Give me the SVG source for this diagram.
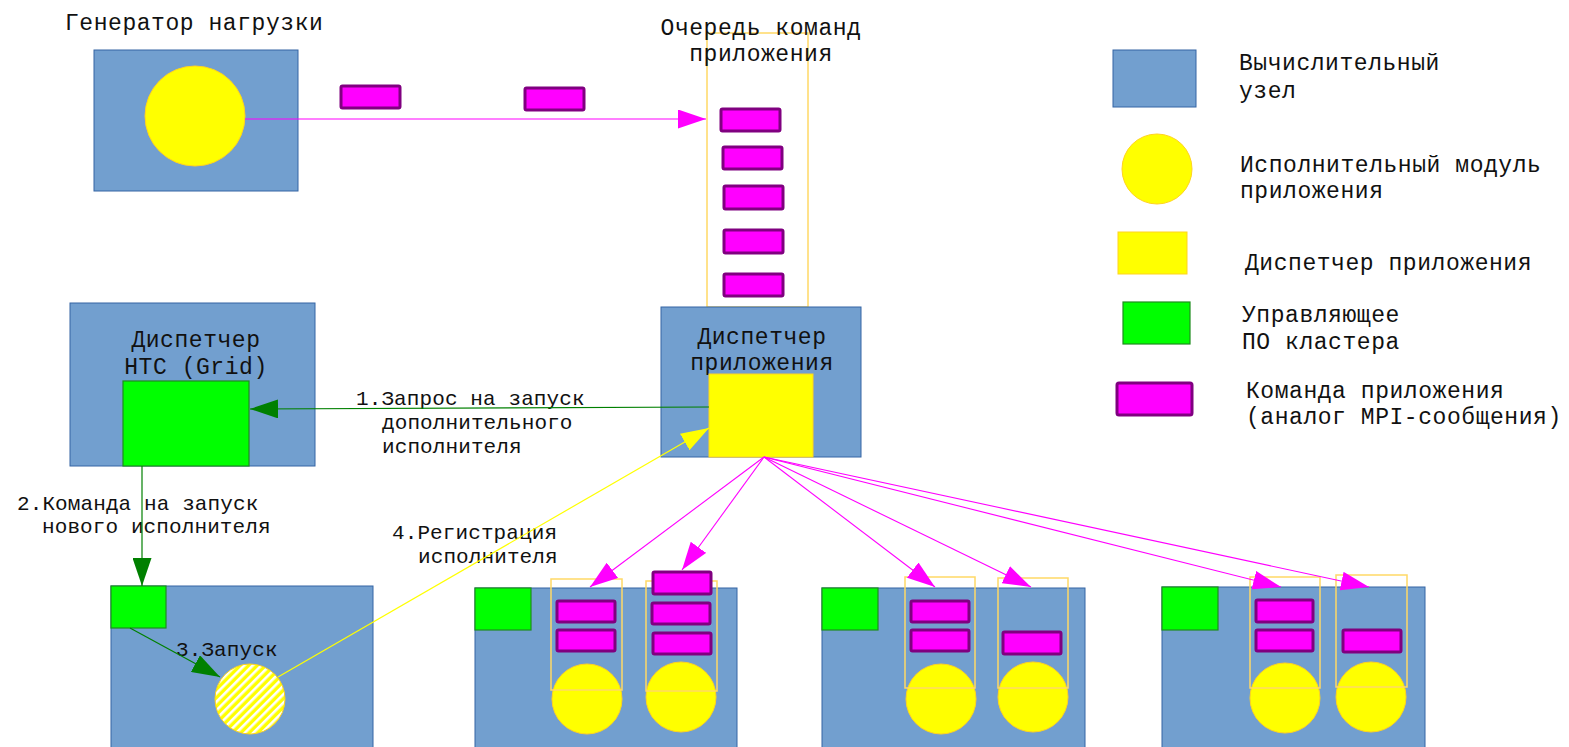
<svg xmlns="http://www.w3.org/2000/svg" width="1569" height="747" viewBox="0 0 1569 747">
  <style>
    .lbl { font-family: "Liberation Mono", "DejaVu Sans Mono", monospace; font-size: 23px; letter-spacing: 0.55px; fill: #111; }
    .step { font-family: "Liberation Mono", "DejaVu Sans Mono", monospace; font-size: 21px; letter-spacing: 0.1px; fill: #111; }
    .mid { text-anchor: middle; }
    .node { fill: #729fcf; stroke: #3465a4; stroke-width: 1; }
    .ctl { fill: #00ff00; stroke: #1f8c1f; stroke-width: 1.2; }
    .disp { fill: #ffff00; stroke: #ffd320; stroke-width: 1; }
    .mod { fill: #ffff00; stroke: #ffd320; stroke-width: 1; }
    .slot { fill: none; stroke: #ffd966; stroke-width: 1.5; }
    .cmd { fill: #ff00ff; stroke: #800080; stroke-width: 3; }
    .pink { stroke: #ff00ff; stroke-width: 1.1; fill: none; }
    .grn { stroke: #008000; stroke-width: 1.2; fill: none; }
    .yel { stroke: #ffff00; stroke-width: 1.2; fill: none; }
  </style>
  <defs>
    <marker id="ah-pink" markerUnits="userSpaceOnUse" markerWidth="28" markerHeight="19" viewBox="0 0 28 19" refX="28" refY="9.5" orient="auto">
      <path d="M0,0 L28,9.5 L0,19 z" fill="#ff00ff"/>
    </marker>
    <marker id="ah-green" markerUnits="userSpaceOnUse" markerWidth="28" markerHeight="19" viewBox="0 0 28 19" refX="28" refY="9.5" orient="auto">
      <path d="M0,0 L28,9.5 L0,19 z" fill="#008000"/>
    </marker>
    <marker id="ah-yellow" markerUnits="userSpaceOnUse" markerWidth="28" markerHeight="19" viewBox="0 0 28 19" refX="28" refY="9.5" orient="auto">
      <path d="M0,0 L28,9.5 L0,19 z" fill="#ffff00"/>
    </marker>
    <pattern id="hatch" patternUnits="userSpaceOnUse" width="6" height="6" patternTransform="rotate(45)">
      <rect width="6" height="6" fill="#ffff00"/>
      <rect width="2.6" height="6" fill="#ffffff"/>
    </pattern>
  </defs>

  <!-- load generator -->
  <g id="generator">
    <text class="lbl" x="65" y="30">Генератор нагрузки</text>
    <rect class="node" x="94" y="50" width="204" height="141"/>
    <circle class="mod" cx="195" cy="116" r="50"/>
  </g>

  <!-- commands in flight -->
  <g id="flying-commands">
    <rect class="cmd" x="341" y="86" width="59" height="22" rx="1.5"/>
    <rect class="cmd" x="525" y="88" width="59" height="22" rx="1.5"/>
  </g>

  <!-- application command queue -->
  <g id="queue">
    <rect class="slot" x="707" y="33" width="101" height="274"/>
    <text class="lbl mid" x="761" y="35">Очередь команд</text>
    <text class="lbl mid" x="761" y="61">приложения</text>
    <rect class="cmd" x="721" y="109" width="59" height="22" rx="1.5"/>
    <rect class="cmd" x="723" y="147" width="59" height="22" rx="1.5"/>
    <rect class="cmd" x="724" y="186" width="59" height="23" rx="1.5"/>
    <rect class="cmd" x="724" y="230" width="59" height="23" rx="1.5"/>
    <rect class="cmd" x="724" y="274" width="59" height="22" rx="1.5"/>
  </g>

  <!-- application dispatcher node -->
  <g id="app-dispatcher">
    <rect class="node" x="661" y="307" width="200" height="150"/>
    <text class="lbl mid" x="762" y="344">Диспетчер</text>
    <text class="lbl mid" x="762" y="370">приложения</text>
    <rect class="disp" x="709" y="374" width="104" height="83"/>
  </g>

  <!-- HTC (Grid) dispatcher -->
  <g id="htc-dispatcher">
    <rect class="node" x="70" y="303" width="245" height="163"/>
    <text class="lbl mid" x="196" y="347">Диспетчер</text>
    <text class="lbl mid" x="196" y="374">HTC (Grid)</text>
    <rect class="ctl" x="123" y="381" width="126" height="85"/>
  </g>

  <!-- new compute node -->
  <g id="node-new">
    <rect class="node" x="111" y="586" width="262" height="175"/>
    <rect class="ctl" x="111" y="586" width="55" height="42"/>
    <circle cx="250" cy="699" r="35" fill="url(#hatch)" stroke="#ffd320" stroke-width="1"/>
  </g>

  <!-- compute node 2 -->
  <g id="node-2">
    <rect class="node" x="475" y="588" width="262" height="173"/>
    <rect class="ctl" x="475" y="588" width="56" height="42"/>
    <circle class="mod" cx="587" cy="699" r="35"/>
    <circle class="mod" cx="681" cy="697" r="35"/>
    <rect class="slot" x="551" y="579" width="71" height="111"/>
    <rect class="slot" x="646" y="581" width="71" height="110"/>
    <rect class="cmd" x="557" y="601" width="58" height="21" rx="1.5"/>
    <rect class="cmd" x="557" y="630" width="58" height="21" rx="1.5"/>
    <rect class="cmd" x="653" y="572" width="58" height="22" rx="1.5"/>
    <rect class="cmd" x="652" y="603" width="58" height="21" rx="1.5"/>
    <rect class="cmd" x="653" y="633" width="58" height="21" rx="1.5"/>
  </g>

  <!-- compute node 3 -->
  <g id="node-3">
    <rect class="node" x="822" y="588" width="263" height="173"/>
    <rect class="ctl" x="822" y="588" width="56" height="42"/>
    <circle class="mod" cx="941" cy="699" r="35"/>
    <circle class="mod" cx="1033" cy="697" r="35"/>
    <rect class="slot" x="905" y="577" width="70" height="111"/>
    <rect class="slot" x="998" y="578" width="70" height="110"/>
    <rect class="cmd" x="911" y="601" width="58" height="21" rx="1.5"/>
    <rect class="cmd" x="911" y="630" width="58" height="21" rx="1.5"/>
    <rect class="cmd" x="1003" y="632" width="58" height="22" rx="1.5"/>
  </g>

  <!-- compute node 4 -->
  <g id="node-4">
    <rect class="node" x="1162" y="587" width="263" height="174"/>
    <rect class="ctl" x="1162" y="587" width="56" height="43"/>
    <circle class="mod" cx="1285" cy="698" r="35"/>
    <circle class="mod" cx="1371" cy="697" r="35"/>
    <rect class="slot" x="1250" y="577" width="70" height="111"/>
    <rect class="slot" x="1336" y="575" width="71" height="112"/>
    <rect class="cmd" x="1256" y="600" width="57" height="22" rx="1.5"/>
    <rect class="cmd" x="1256" y="630" width="57" height="21" rx="1.5"/>
    <rect class="cmd" x="1343" y="630" width="58" height="22" rx="1.5"/>
  </g>

  <!-- step labels -->
  <g id="step-labels">
    <text class="step" x="356" y="405">1.Запрос на запуск</text>
    <text class="step" x="382" y="429">дополнительного</text>
    <text class="step" x="382" y="453">исполнителя</text>
    <text class="step" x="17" y="510">2.Команда на запуск</text>
    <text class="step" x="42" y="533">нового исполнителя</text>
    <text class="step" x="176" y="656">3.Запуск</text>
    <text class="step" x="392" y="539">4.Регистрация</text>
    <text class="step" x="418" y="563">исполнителя</text>
  </g>

  <!-- connectors -->
  <g id="connectors">
    <line class="pink" x1="245" y1="119" x2="706" y2="119" marker-end="url(#ah-pink)"/>
    <line class="grn" x1="709" y1="407" x2="250" y2="409" marker-end="url(#ah-green)"/>
    <line class="grn" x1="142" y1="466" x2="142" y2="586" marker-end="url(#ah-green)"/>
    <line class="grn" x1="130" y1="628" x2="220" y2="677" marker-end="url(#ah-green)"/>
    <line class="yel" x1="278" y1="677" x2="709" y2="428" marker-end="url(#ah-yellow)"/>
    <line class="pink" x1="764" y1="457" x2="590" y2="587" marker-end="url(#ah-pink)"/>
    <line class="pink" x1="764" y1="457" x2="682" y2="570" marker-end="url(#ah-pink)"/>
    <line class="pink" x1="764" y1="457" x2="935" y2="587" marker-end="url(#ah-pink)"/>
    <line class="pink" x1="764" y1="457" x2="1031" y2="587" marker-end="url(#ah-pink)"/>
    <line class="pink" x1="764" y1="457" x2="1281" y2="587" marker-end="url(#ah-pink)"/>
    <line class="pink" x1="764" y1="457" x2="1369" y2="587" marker-end="url(#ah-pink)"/>
  </g>

  <!-- legend -->
  <g id="legend">
    <rect class="node" x="1113" y="50" width="83" height="57"/>
    <text class="lbl" x="1239" y="70">Вычислительный</text>
    <text class="lbl" x="1239" y="98">узел</text>
    <circle class="mod" cx="1157" cy="169" r="35"/>
    <text class="lbl" x="1240" y="172">Исполнительный модуль</text>
    <text class="lbl" x="1240" y="198">приложения</text>
    <rect class="disp" x="1118" y="232" width="69" height="42"/>
    <text class="lbl" x="1245" y="270">Диспетчер приложения</text>
    <rect class="ctl" x="1123" y="302" width="67" height="42"/>
    <text class="lbl" x="1242" y="322">Управляющее</text>
    <text class="lbl" x="1242" y="349">ПО кластера</text>
    <rect class="cmd" x="1117" y="383" width="75" height="32" rx="2" stroke-width="4"/>
    <text class="lbl" x="1246" y="398">Команда приложения</text>
    <text class="lbl" x="1246" y="424">(аналог MPI-сообщения)</text>
  </g>
</svg>
